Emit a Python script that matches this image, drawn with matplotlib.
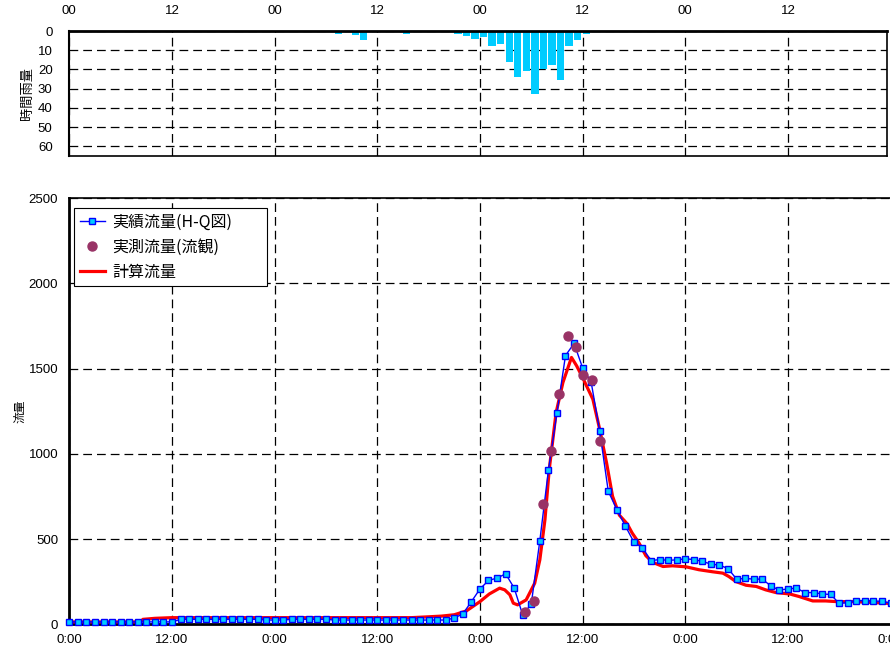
import numpy as np
import matplotlib
matplotlib.use('Agg')
import matplotlib.pyplot as plt

plt.rcParams['font.family'] = ['Liberation Sans', 'Noto Sans CJK JP', 'DejaVu Sans']
jp = ['Noto Sans CJK JP', 'DejaVu Sans']

# hourly rainfall (hour index, mm)
rain_hours = [31, 33, 34, 39, 45, 46, 47, 48, 49, 50, 51, 52, 53, 54, 55, 56, 57, 58, 59, 60]
rain_vals = [1.5, 2.2, 4.9, 1.4, 1.5, 2.6, 4.1, 3.1, 7.6, 6.6, 16.1, 23.9, 20.8, 32.6,
             19.6, 17.5, 25.5, 7.6, 4.5, 1.4]

# observed flow from H-Q curve, one value per hour 0..96
hq_flow = ([14] * 13 + [29] * 10 + [25] * 3 + [29] * 5 + [25] * 14 +
           [37, 61, 133, 207, 257, 271, 296, 213, 55, 119, 490, 902, 1239, 1576, 1647,
            1504, 1420, 1133, 780, 673, 576, 482, 449, 373, 380, 375, 378, 384, 380, 369,
            353, 347, 327, 265, 269, 265, 265, 225, 200, 208, 212, 186, 186, 178, 175,
            122, 127, 139, 139, 137, 135, 124])
hq_hours = np.arange(len(hq_flow))

# measured flow (discharge observation)
obs_hours = [53.26, 54.3, 55.36, 56.26, 57.27, 58.28, 59.26, 60.1, 61.1, 62.06]
obs_flow = [75, 139, 706, 1014, 1353, 1688, 1627, 1463, 1433, 1075]

# computed flow
calc_hours = [0, 8.4, 8.6, 10, 12, 40, 42, 43.5, 45, 46.4, 48, 49.1, 50.3, 50.9, 51.5,
              51.9, 52.4, 53.4, 54.4, 55, 55.6, 56.1, 56.9, 57.7, 58.7, 59.3, 60, 61.2,
              62, 62.8, 63.5, 64.3, 65.2, 65.8, 66.6, 67.4, 68.2, 69.4, 70.5, 72.1, 73.6,
              75.2, 76.4, 77.1, 77.9, 79.1, 80.3, 81.4, 82.6, 84.2, 85.3, 86.9, 88.4,
              89.7, 91.6, 93.5, 96]
calc_flow = [14, 14, 29, 35, 39, 39, 44, 48, 56, 78, 133, 178, 212, 202, 173,
             124, 114, 143, 241, 378, 614, 908, 1241, 1418, 1565, 1516, 1447, 1320,
             1143, 947, 751, 640, 590, 535, 476, 402, 363, 339, 343, 337, 320,
             308, 300, 280, 251, 229, 222, 202, 186, 178, 163, 137, 137,
             133, 133, 129, 122]

top_labels = ['00', '12'] * 4
bottom_labels = ['0:00', '12:00'] * 4 + ['0:00']

W, H = 890, 645
fig = plt.figure(figsize=(W / 100, H / 100), dpi=100)

grid_kw = dict(color='black', linestyle=(0, (7, 4)), linewidth=0.9)

# rainfall panel
w1 = 887 - 69.3
ax1 = fig.add_axes([69.3 / W, 1 - 155.5 / H, w1 / W, 124.5 / H])
ax1.bar(rain_hours, rain_vals, width=0.85, align='edge', color='#00CCFF', zorder=2)
ax1.set_xlim(0, w1 / 8.555)
ax1.set_ylim(64.8, 0)
ax1.set_yticks(range(0, 61, 10))
ax1.set_xticks(range(0, 96, 12))
ax1.set_xticklabels(top_labels)
ax1.xaxis.tick_top()
ax1.tick_params(axis='x', length=0, pad=10, labelsize=9.5)
ax1.tick_params(axis='y', length=0, pad=12, labelsize=9.5)
ax1.grid(True, **grid_kw)
ax1.set_axisbelow(True)
for s in ax1.spines.values():
    s.set_linewidth(1.2)
ax1.spines['top'].set_linewidth(2)
ax1.spines['left'].set_linewidth(1.5)
ax1.set_ylabel('時間雨量', family=jp, fontsize=9.5)
ax1.yaxis.set_label_coords((34 - 69.3) / w1, 0.5)

# flow panel
w2 = 97 * 8.555
ax2 = fig.add_axes([69.3 / W, 20.7 / H, w2 / W, (624.3 - 198) / H])
ax2.plot(calc_hours, calc_flow, color='red', linewidth=2.3, label='計算流量', zorder=3)
ax2.plot(hq_hours, hq_flow, color='#0000FF', linewidth=1, marker='s', markersize=4.2,
         markerfacecolor='#00CCFF', markeredgecolor='#0000FF', markeredgewidth=1,
         label='実績流量(H-Q図)', zorder=4, clip_on=False)
ax2.plot(obs_hours, obs_flow, linestyle='none', marker='o', markersize=6.5,
         color='#993366', label='実測流量(流観)', zorder=5)
ax2.set_xlim(0, 97)
ax2.set_ylim(0, 2500)
ax2.set_yticks(range(0, 2501, 500))
ax2.set_xticks(range(0, 97, 12))
ax2.set_xticklabels(bottom_labels)
ax2.tick_params(axis='x', length=0, pad=7, labelsize=9.5)
ax2.tick_params(axis='y', length=0, pad=8, labelsize=9.5)
ax2.grid(True, **grid_kw)
ax2.set_axisbelow(True)
ax2.spines['right'].set_visible(False)
ax2.spines['left'].set_linewidth(2)
ax2.spines['bottom'].set_linewidth(2)
ax2.spines['top'].set_linewidth(1.2)
ax2.set_ylabel('流量', family=jp, fontsize=8.5)
ax2.yaxis.set_label_coords((26 - 69.3) / w2, 0.5)

handles, labels = ax2.get_legend_handles_labels()
order = [1, 2, 0]
leg = ax2.legend([handles[i] for i in order], [labels[i] for i in order],
                 loc='upper left', mode='expand',
                 bbox_to_anchor=((74 - 69.3) / w2, 0, (267 - 74) / w2, 0.977),
                 borderaxespad=0, prop={'family': jp, 'size': 11.5}, fancybox=False,
                 framealpha=1, edgecolor='black', handlelength=1.6, handletextpad=0.45,
                 borderpad=0.35, labelspacing=0.5)
leg.get_frame().set_linewidth(0.8)

fig.savefig('out.png', dpi=100)
